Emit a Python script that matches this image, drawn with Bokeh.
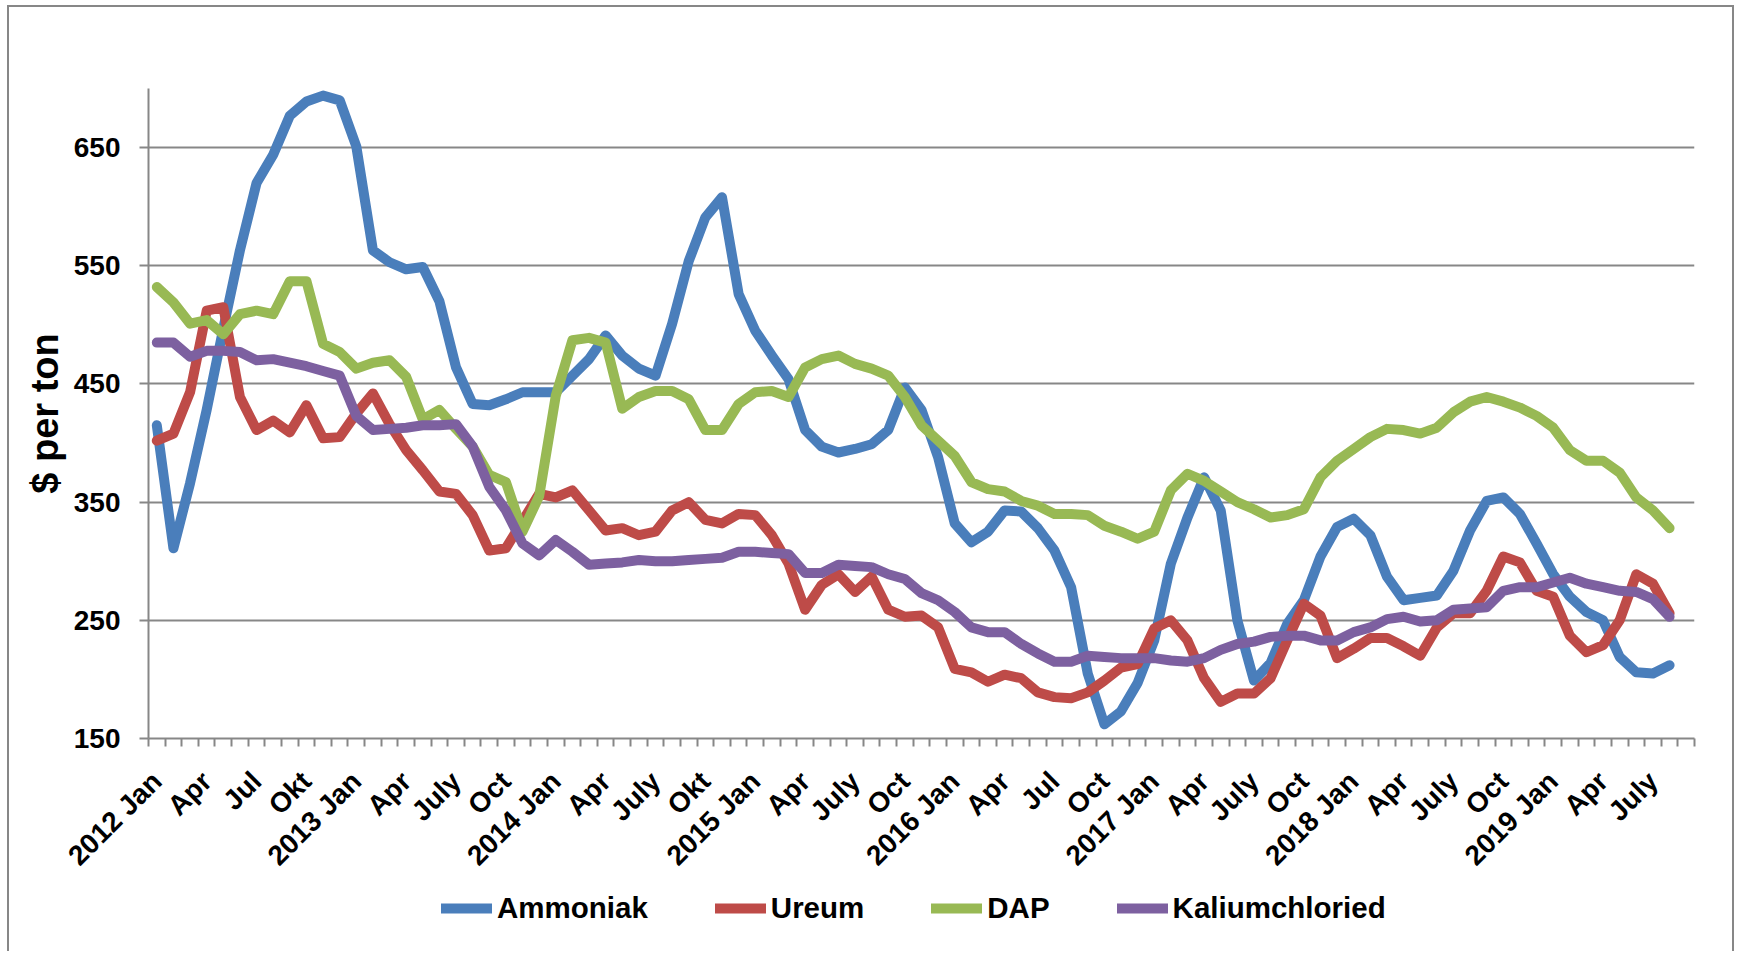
import math
from bokeh.plotting import figure
from bokeh.layouts import column
from bokeh.models import FixedTicker, Legend, LegendItem, ColumnDataSource, Range1d
from bokeh.embed import file_html
from bokeh.resources import INLINE

# ---------------- data ----------------
tick_labels = ["2012 Jan", "Apr", "Jul", "Okt", "2013 Jan", "Apr", "July", "Oct",
               "2014 Jan", "Apr", "July", "Okt", "2015 Jan", "Apr", "July", "Oct",
               "2016 Jan", "Apr", "Jul", "Oct", "2017 Jan", "Apr", "July", "Oct",
               "2018 Jan", "Apr", "July", "Oct", "2019 Jan", "Apr", "July"]
n_months = 93  # Jan 2012 .. Sep 2019 on the axis

ammoniak = [415, 311, 366, 428, 497, 563, 620, 644, 677, 689, 694, 690,
            651, 563, 553, 547, 549, 520, 464, 433, 432, 437, 443, 443,
            443, 457, 471, 491, 474, 463, 457, 501, 554, 591, 608, 526,
            495, 474, 454, 411, 397, 392, 395, 399, 411, 447, 428, 388,
            332, 316, 325, 343, 342, 328, 309, 278, 205, 162, 173, 197,
            233, 298, 337, 371, 343, 250, 199, 214, 247, 267, 304, 329,
            336, 322, 287, 267, 269, 271, 292, 326, 351, 354, 340, 315,
            289, 270, 257, 250, 219, 206, 205, 212]
ureum = [402, 408, 443, 512, 515, 439, 411, 419, 409, 432, 404, 405,
         425, 442, 416, 394, 377, 359, 357, 339, 309, 311, 334, 357,
         354, 360, 343, 326, 328, 322, 325, 343, 350, 335, 332, 340,
         339, 322, 298, 259, 280, 289, 274, 287, 259, 253, 254, 244,
         209, 206, 198, 204, 201, 189, 185, 184, 189, 199, 210, 213,
         243, 250, 233, 201, 181, 188, 188, 201, 233, 264, 254, 218,
         226, 235, 235, 228, 220, 244, 256, 256, 275, 304, 299, 275,
         270, 237, 223, 229, 250, 289, 281, 256]
dap = [532, 519, 501, 504, 492, 509, 512, 509, 537, 537, 484, 477,
       463, 468, 470, 456, 420, 428, 412, 397, 373, 367, 325, 355,
       440, 487, 489, 485, 429, 439, 444, 444, 437, 411, 411, 433,
       443, 444, 439, 464, 471, 474, 467, 463, 457, 439, 415, 402,
       389, 367, 361, 359, 351, 347, 340, 340, 339, 330, 325, 319,
       325, 360, 374, 368, 359, 350, 344, 337, 339, 344, 371, 385,
       395, 405, 412, 411, 408, 413, 426, 435, 439, 435, 430, 423,
       413, 394, 385, 385, 375, 354, 343, 328]
kalium = [485, 485, 473, 478, 478, 477, 470, 471, 468, 465, 461, 457,
          423, 411, 412, 413, 415, 415, 416, 397, 363, 343, 315, 305,
          318, 308, 297, 298, 299, 301, 300, 300, 301, 302, 303, 308,
          308, 307, 306, 290, 290, 297, 296, 295, 289, 285, 273, 267,
          257, 244, 240, 240, 230, 222, 215, 215, 220, 219, 218, 218,
          218, 216, 215, 218, 225, 230, 232, 236, 237, 237, 233, 233,
          240, 244, 251, 253, 249, 250, 259, 260, 261, 275, 278, 278,
          282, 286, 281, 278, 275, 274, 268, 253]
series_names = ["Ammoniak", "Ureum", "DAP", "Kaliumchloried"]
series_colors = ["#4A7EBB", "#BE4B48", "#98B954", "#7D60A0"]
y_ticks = [150, 250, 350, 450, 550, 650]

# ---------------- figure ----------------
FONT = "Liberation Sans"
GREY = "#878787"
LW = 10

p = figure(width=1727, height=881, output_backend="svg", toolbar_location=None,
           x_range=Range1d(-0.5, n_months - 0.5), y_range=Range1d(150, 700),
           min_border_left=139, min_border_right=42, min_border_top=81,
           min_border_bottom=150)
p.styles = {"border-left": "2px solid " + GREY, "border-right": "2px solid " + GREY,
            "border-top": "2px solid " + GREY}
p.outline_line_color = None
p.background_fill_color = "white"
p.border_fill_color = "white"

src = ColumnDataSource(dict(x=list(range(len(ammoniak))), a=ammoniak, u=ureum,
                            d=dap, k=kalium))
cols = ["a", "u", "d", "k"]
for col, color in zip(cols, series_colors):
    p.line("x", col, source=src, line_width=LW, line_color=color,
           line_join="round", line_cap="round")

# x axis
tick_pos = list(range(0, len(tick_labels) * 3, 3))
xa = p.xaxis[0]
xa.ticker = FixedTicker(ticks=tick_pos,
                        minor_ticks=[i - 0.5 for i in range(n_months + 1)])
xa.major_label_overrides = {pos: lab for pos, lab in zip(tick_pos, tick_labels)}
xa.major_label_orientation = math.pi / 4
xa.major_tick_out = 0
xa.major_tick_in = 0
xa.minor_tick_out = 8
xa.minor_tick_in = 0
xa.minor_tick_line_color = GREY
xa.minor_tick_line_width = 2
xa.axis_line_color = GREY
xa.axis_line_width = 2
xa.major_label_text_font = FONT
xa.major_label_text_font_style = "bold"
xa.major_label_text_font_size = "28px"
xa.major_label_text_color = "black"
xa.major_label_standoff = 30

# y axis
ya = p.yaxis[0]
ya.ticker = FixedTicker(ticks=y_ticks)
ya.major_tick_out = 9
ya.major_tick_in = 0
ya.minor_tick_line_color = None
ya.major_tick_line_color = GREY
ya.major_tick_line_width = 2
ya.axis_line_color = GREY
ya.axis_line_width = 2
ya.major_label_text_font = FONT
ya.major_label_text_font_style = "bold"
ya.major_label_text_font_size = "28px"
ya.major_label_text_color = "black"
ya.major_label_standoff = 19
ya.axis_label = "$ per ton"
ya.axis_label_text_font = FONT
ya.axis_label_text_font_style = "bold"
ya.axis_label_text_font_size = "38px"
ya.axis_label_text_color = "black"
ya.axis_label_standoff = 5

p.xgrid.visible = False
p.ygrid.grid_line_color = GREY
p.ygrid.grid_line_width = 2

# ---------------- legend strip ----------------
# same series, viewed through a range where no data lies, so only the legend shows
p2 = figure(width=1727, height=65, output_backend="svg", toolbar_location=None,
            x_range=Range1d(-1000, -999), y_range=Range1d(0, 1), min_border=0)
p2.styles = {"border-left": "2px solid " + GREY, "border-right": "2px solid " + GREY}
p2.xaxis.visible = False
p2.yaxis.visible = False
p2.xgrid.visible = False
p2.ygrid.visible = False
p2.outline_line_color = None
p2.background_fill_color = "white"
p2.border_fill_color = "white"

items = []
for name, col, color in zip(series_names, cols, series_colors):
    r = p2.line("x", col, source=src, line_width=LW, line_color=color,
                line_join="round", line_cap="round")
    items.append(LegendItem(label=name, renderers=[r]))

legend = Legend(items=items, orientation="horizontal", location=(293, 26),
                glyph_width=51, glyph_height=32, label_height=32,
                label_standoff=5, spacing=67,
                label_text_font=FONT, label_text_font_style="bold",
                label_text_font_size="29.5px", label_text_color="black",
                border_line_color=None, background_fill_alpha=0,
                padding=0, margin=0)
p2.add_layout(legend, "center")

layout = column(p, p2, spacing=0,
                styles={"margin-left": "7px", "margin-top": "5px"})

open("out.html", "w").write(file_html(layout, INLINE))
